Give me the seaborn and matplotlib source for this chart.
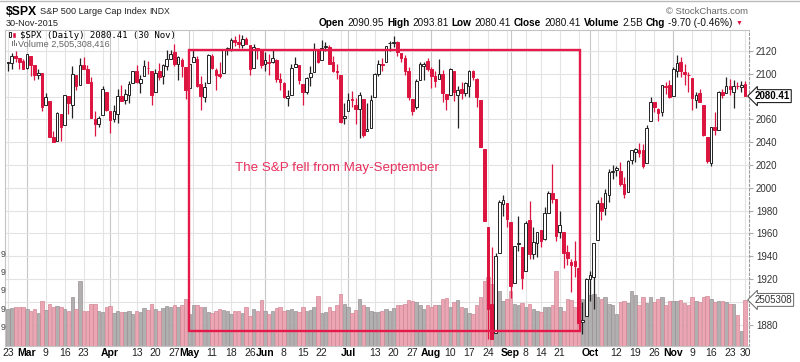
import numpy as np
import pandas as pd
import matplotlib
matplotlib.use("Agg")
import matplotlib.pyplot as plt
from matplotlib.patches import Rectangle
import seaborn as sns

# trading calendar shown on the chart
holidays = ['2015-04-03', '2015-05-25', '2015-07-03', '2015-09-07', '2015-11-26']
dates = pd.bdate_range('2015-02-23', '2015-11-30', freq='C', holidays=holidays)

# daily OHLC of $SPX, one row per month
opens = [
    2109.8, 2109.1, 2115.3, 2113.9, 2110.9,
    2105.2, 2115.8, 2107.7, 2098.5, 2100.9, 2072.3, 2076.1, 2044.7, 2041.1, 2064.6, 2055.4, 2080.6, 2072.8, 2098.7, 2090.3, 2108.0, 2103.9, 2093.1, 2059.9, 2055.8, 2064.1, 2084.1,
    2067.6, 2060.0, 2064.9, 2080.8, 2076.9, 2081.3, 2091.5, 2102.0, 2092.3, 2097.8, 2105.0, 2102.6, 2084.1, 2102.8, 2098.3, 2107.2, 2112.8, 2119.3, 2108.4, 2112.5, 2105.5,
    2087.4, 2110.2, 2112.6, 2091.3, 2080.0, 2092.1, 2115.6, 2102.9, 2099.6, 2100.4, 2122.1, 2121.3, 2129.5, 2127.8, 2125.6, 2130.4, 2125.3, 2105.1, 2122.3, 2120.7,
    2108.6, 2110.4, 2110.6, 2112.4, 2095.1, 2092.3, 2079.1, 2081.1, 2106.2, 2107.4, 2091.3, 2084.3, 2097.4, 2101.6, 2121.1, 2112.5, 2123.2, 2123.7, 2109.9, 2102.6, 2098.6, 2061.2,
    2067.0, 2078.0, 2073.0, 2069.5, 2077.7, 2049.7, 2052.7, 2080.0, 2099.7, 2109.0, 2110.6, 2126.8, 2126.9, 2127.6, 2118.2, 2114.2, 2102.2, 2078.2, 2070.8, 2094.7, 2106.8, 2111.6,
    2104.5, 2097.7, 2095.3, 2100.0, 2082.6, 2081.0, 2102.7, 2081.1, 2086.2, 2083.2, 2089.7, 2102.0, 2095.7, 2076.6, 2034.1, 1965.2, 1898.1, 1872.8, 1942.8, 1986.1, 1986.7,
    1970.1, 1916.5, 1950.8, 1947.8, 1927.3, 1971.5, 1941.6, 1951.5, 1963.1, 1955.1, 1978.0, 1995.3, 1989.7, 1960.8, 1961.4, 1943.2, 1934.8, 1935.9, 1929.2, 1881.9, 1887.1,
    1919.7, 1921.8, 1954.3, 1986.6, 1982.3, 1994.0, 2013.7, 2015.7, 2015.0, 2003.7, 1996.5, 2024.4, 2031.7, 2033.1, 2033.5, 2021.9, 2058.2, 2075.1, 2068.8, 2066.5, 2088.4, 2090.0,
    2080.8, 2102.6, 2110.6, 2101.9, 2098.6, 2096.6, 2077.2, 2083.4, 2072.3, 2044.6, 2022.1, 2053.7, 2051.0, 2083.7, 2082.8, 2089.4, 2084.4, 2089.3, 2088.8, 2090.95,
]
highs = [
    2110.0, 2117.9, 2119.6, 2113.9, 2112.7,
    2117.5, 2115.8, 2107.7, 2104.3, 2100.9, 2083.5, 2076.1, 2050.1, 2066.4, 2064.6, 2081.4, 2080.6, 2106.9, 2098.7, 2113.9, 2114.9, 2107.6, 2097.4, 2067.1, 2062.8, 2089.0, 2084.1,
    2067.6, 2072.2, 2087.0, 2089.8, 2086.7, 2093.3, 2102.6, 2107.6, 2098.6, 2111.9, 2111.3, 2102.6, 2103.9, 2109.6, 2109.0, 2120.5, 2120.9, 2125.9, 2116.0, 2113.7, 2105.5,
    2108.4, 2120.9, 2115.2, 2098.4, 2092.9, 2117.7, 2117.7, 2105.1, 2110.2, 2121.5, 2123.9, 2131.8, 2133.0, 2134.7, 2134.3, 2132.2, 2125.3, 2126.2, 2122.3, 2120.7,
    2119.2, 2117.6, 2121.9, 2112.9, 2101.0, 2093.0, 2085.6, 2108.5, 2115.0, 2107.4, 2091.3, 2097.4, 2106.8, 2126.6, 2121.6, 2129.9, 2128.0, 2125.1, 2116.0, 2108.9, 2098.6, 2074.3,
    2082.8, 2085.1, 2078.6, 2083.7, 2077.7, 2074.3, 2081.3, 2100.7, 2112.0, 2114.1, 2124.4, 2128.9, 2132.8, 2128.4, 2118.5, 2116.9, 2106.0, 2078.2, 2095.6, 2110.6, 2110.5, 2114.2,
    2105.7, 2102.5, 2112.7, 2103.3, 2082.6, 2105.4, 2102.7, 2089.1, 2092.9, 2092.5, 2102.9, 2103.5, 2096.2, 2076.6, 2034.1, 1965.2, 1948.0, 1943.1, 1989.6, 1993.5, 1986.7,
    1970.1, 1948.9, 1975.0, 1947.8, 1970.4, 1988.6, 1965.3, 1961.1, 1963.1, 1983.2, 1997.3, 2020.9, 1989.7, 1979.6, 1961.4, 1949.5, 1937.2, 1952.9, 1929.2, 1899.5, 1920.5,
    1927.2, 1951.4, 1989.2, 1991.6, 1999.3, 2016.5, 2020.1, 2018.7, 2022.3, 2009.6, 2024.2, 2033.5, 2034.5, 2039.1, 2038.0, 2055.2, 2079.7, 2075.1, 2070.4, 2090.4, 2092.5, 2094.3,
    2106.2, 2116.5, 2114.6, 2108.8, 2101.9, 2096.6, 2083.7, 2086.9, 2072.3, 2044.6, 2053.2, 2066.7, 2085.3, 2086.7, 2097.1, 2095.6, 2094.1, 2093.0, 2093.3, 2093.81,
]
lows = [
    2102.5, 2103.8, 2109.9, 2103.8, 2103.8,
    2104.5, 2098.3, 2094.5, 2095.2, 2067.3, 2072.2, 2044.1, 2039.7, 2041.1, 2041.2, 2055.4, 2065.1, 2061.2, 2085.6, 2090.3, 2104.4, 2091.5, 2061.0, 2045.5, 2052.9, 2064.1, 2067.0,
    2048.4, 2057.3, 2056.5, 2076.1, 2073.3, 2074.3, 2091.5, 2092.3, 2083.2, 2097.8, 2100.0, 2072.4, 2084.1, 2094.4, 2091.1, 2103.2, 2112.8, 2107.0, 2094.9, 2097.4, 2077.6,
    2087.4, 2110.2, 2088.5, 2067.9, 2075.0, 2092.1, 2104.6, 2085.6, 2096.0, 2100.4, 2116.8, 2120.0, 2124.5, 2122.6, 2122.9, 2126.0, 2099.2, 2105.1, 2112.9, 2104.9,
    2102.5, 2099.1, 2109.6, 2093.2, 2085.7, 2079.1, 2072.1, 2081.1, 2106.2, 2091.3, 2072.5, 2082.1, 2088.9, 2101.6, 2109.5, 2112.5, 2119.9, 2108.5, 2101.8, 2095.4, 2056.6, 2056.3,
    2067.0, 2071.0, 2055.6, 2044.0, 2044.7, 2049.7, 2052.7, 2080.0, 2098.2, 2102.5, 2110.6, 2119.9, 2123.7, 2115.4, 2110.0, 2098.6, 2077.1, 2063.5, 2069.1, 2094.1, 2094.1, 2102.1,
    2087.3, 2088.6, 2095.3, 2075.5, 2067.9, 2081.0, 2076.5, 2052.1, 2078.3, 2080.6, 2079.3, 2094.1, 2070.5, 2035.7, 1970.8, 1867.0, 1867.1, 1872.8, 1942.8, 1975.2, 1966.0,
    1903.1, 1916.5, 1944.7, 1911.2, 1927.3, 1937.9, 1937.2, 1939.2, 1948.3, 1954.3, 1977.9, 1986.7, 1953.6, 1955.8, 1929.2, 1932.6, 1908.9, 1921.5, 1879.2, 1871.9, 1887.1,
    1900.7, 1893.7, 1954.3, 1972.0, 1976.4, 1987.5, 2007.6, 2010.6, 2001.8, 1990.7, 1996.5, 2020.5, 2022.3, 2026.6, 2017.2, 2021.9, 2058.2, 2066.5, 2058.8, 2063.1, 2082.6, 2079.1,
    2080.8, 2097.5, 2097.0, 2090.4, 2083.7, 2068.2, 2069.9, 2074.9, 2045.7, 2022.0, 2019.4, 2045.9, 2051.0, 2078.8, 2082.8, 2081.4, 2070.3, 2086.3, 2084.1, 2080.41,
]
closes = [
    2109.66, 2115.48, 2113.86, 2110.74, 2104.50,
    2117.39, 2107.78, 2098.53, 2101.04, 2071.26, 2079.43, 2044.16, 2040.24, 2065.95, 2053.40, 2081.19, 2074.28, 2099.50, 2089.27, 2108.10, 2104.42, 2091.50, 2061.05, 2056.15, 2061.02, 2086.24, 2067.89,
    2059.69, 2066.96, 2080.62, 2076.33, 2081.90, 2091.18, 2102.06, 2092.43, 2095.84, 2106.63, 2104.99, 2081.18, 2100.40, 2097.29, 2107.96, 2112.93, 2117.69, 2108.92, 2114.76, 2106.85, 2085.51,
    2108.29, 2114.49, 2089.46, 2080.15, 2088.00, 2116.10, 2105.33, 2099.12, 2098.48, 2121.10, 2122.73, 2129.20, 2127.83, 2125.85, 2130.82, 2126.06, 2104.20, 2123.48, 2120.79, 2107.39,
    2111.73, 2109.60, 2114.07, 2095.84, 2092.83, 2079.28, 2080.15, 2105.20, 2108.86, 2094.11, 2084.43, 2096.29, 2100.44, 2121.24, 2109.99, 2122.85, 2124.20, 2108.58, 2102.31, 2101.49, 2057.64, 2063.11,
    2077.42, 2076.78, 2068.76, 2081.34, 2046.68, 2051.31, 2076.62, 2099.60, 2108.95, 2107.40, 2124.29, 2126.64, 2128.28, 2119.21, 2114.15, 2102.15, 2079.65, 2067.64, 2093.25, 2108.57, 2108.63, 2103.84,
    2098.04, 2093.32, 2099.84, 2083.56, 2077.57, 2104.18, 2084.07, 2086.05, 2083.39, 2091.54, 2102.44, 2096.92, 2079.61, 2035.73, 1970.89, 1893.21, 1867.61, 1940.51, 1987.66, 1988.87, 1972.18,
    1913.85, 1948.86, 1951.13, 1921.22, 1969.41, 1942.04, 1952.29, 1961.05, 1953.03, 1978.09, 1995.31, 1990.20, 1958.03, 1966.97, 1942.74, 1938.76, 1932.24, 1931.34, 1881.77, 1884.09, 1920.03,
    1923.82, 1951.36, 1987.05, 1979.92, 1995.83, 2013.43, 2014.89, 2017.46, 2003.69, 1994.24, 2023.86, 2033.11, 2033.66, 2030.77, 2018.94, 2052.51, 2075.15, 2071.18, 2065.89, 2090.35, 2089.41, 2079.36,
    2104.05, 2109.79, 2102.31, 2099.93, 2099.20, 2078.58, 2081.72, 2075.00, 2045.97, 2023.04, 2053.19, 2050.44, 2083.58, 2081.24, 2089.17, 2086.59, 2089.14, 2088.87, 2090.11, 2080.41,
]
# volume in billions of shares
volumes = [
    2.01, 2.05, 2.12, 2.14, 2.10,
    2.01, 1.92, 1.98, 1.78, 2.44, 1.95, 2.27, 2.14, 2.18, 2.12, 2.02, 1.92, 2.66, 2.00, 3.57, 1.90, 1.87, 2.29, 2.29, 1.92, 1.83, 2.10,
    2.18, 1.80, 1.92, 1.85, 1.85, 1.92, 1.75, 1.90, 1.85, 2.05, 1.95, 2.30, 1.98, 1.90, 2.05, 2.15, 2.10, 2.22, 2.12, 2.25, 2.56,
    1.74, 2.20, 2.25, 2.14, 2.09, 1.83, 1.78, 1.92, 2.01, 1.96, 1.89, 1.74, 1.92, 1.89, 1.78, 2.09, 1.60, 2.01, 1.92, 2.51,
    1.92, 1.74, 1.87, 2.05, 2.14, 1.92, 1.96, 2.01, 1.92, 1.83, 2.09, 1.92, 1.96, 2.09, 2.70, 1.80, 1.83, 2.09, 1.87, 2.20, 2.84, 2.29,
    2.09, 1.80, 1.96, 2.56, 2.25, 2.09, 1.92, 1.83, 1.83, 1.87, 2.01, 1.87, 2.05, 2.20, 2.22, 2.29, 2.51, 2.47, 2.38, 2.25, 2.01, 2.20,
    2.14, 2.20, 2.20, 2.56, 2.60, 2.09, 2.38, 2.51, 2.09, 2.05, 1.80, 1.74, 2.20, 2.66, 3.57, 3.75, 3.40, 3.70, 2.99, 2.47, 2.56,
    2.99, 2.29, 2.20, 2.33, 2.14, 2.29, 2.01, 1.92, 1.83, 2.09, 2.12, 2.20, 4.12, 2.09, 1.92, 2.56, 2.51, 2.09, 2.75, 2.56, 2.84,
    2.75, 2.84, 2.66, 2.56, 2.66, 2.29, 2.20, 1.74, 2.38, 2.44, 2.33, 2.99, 2.75, 2.20, 2.66, 2.33, 2.66, 2.38, 2.56, 2.66, 2.25, 2.47,
    2.44, 2.47, 2.51, 2.33, 2.25, 2.66, 2.44, 2.38, 2.66, 2.70, 2.56, 2.38, 2.44, 2.47, 2.38, 2.29, 2.29, 1.65, 0.82, 2.505308416,
]

# x-axis labels
tick_dates = ['2015-02-23', '2015-03-02', '2015-03-09', '2015-03-16', '2015-03-23', '2015-04-01',
              '2015-04-13', '2015-04-20', '2015-04-27', '2015-05-01', '2015-05-11', '2015-05-18',
              '2015-05-26', '2015-06-01', '2015-06-08', '2015-06-15', '2015-06-22', '2015-07-01',
              '2015-07-13', '2015-07-20', '2015-07-27', '2015-08-03', '2015-08-10', '2015-08-17',
              '2015-08-24', '2015-09-01', '2015-09-08', '2015-09-14', '2015-09-21', '2015-10-01',
              '2015-10-12', '2015-10-19', '2015-10-26', '2015-11-02', '2015-11-09', '2015-11-16',
              '2015-11-23', '2015-11-30']
tick_labels = ['23', 'Mar', '9', '16', '23', 'Apr', '13', '20', '27', 'May', '11', '18', '26',
               'Jun', '8', '15', '22', 'Jul', '13', '20', '27', 'Aug', '10', '17', '24', 'Sep',
               '8', '14', '21', 'Oct', '12', '19', '26', 'Nov', '9', '16', '23', '30']
month_names = ['Mar', 'Apr', 'May', 'Jun', 'Jul', 'Aug', 'Sep', 'Oct', 'Nov']
price_ticks = [1880, 1900, 1920, 1940, 1960, 1980, 2000, 2020, 2040, 2060, 2080, 2100, 2120]
hidden_price_labels = [1900, 2080]   # covered by the last-value tags
vol_ticks = [1, 2, 3, 4, 5]

# annotation box
box_start, box_end = '2015-05-01', '2015-09-28'
box_low, box_high = 1874, 2121
note_date, note_price = '2015-05-19', 2017
note_text = 'The S&P fell from May-September'

RED = '#dc1440'
BLACK = '#222222'

sns.set_style("white")
plt.rcParams['font.family'] = ['Liberation Sans', 'DejaVu Sans']

o = np.array(opens)
h = np.array(highs)
l = np.array(lows)
c = np.array(closes)
v = np.array(volumes)
x = np.arange(len(dates))
prev = np.r_[c[0], c[:-1]]
down = c < prev
filled = c < o

W, H = 800, 362
fig = plt.figure(figsize=(W / 100, H / 100), dpi=100)
L, R, T, B = 5, 749, 30, 345.5
rect = [L / W, 1 - B / H, (R - L) / W, (B - T) / H]
ax_vol = fig.add_axes(rect)
ax = fig.add_axes(rect, sharex=ax_vol)
ax.patch.set_visible(False)

# grid (drawn on the back axes so volume bars sit on top)
week_start = pd.Series(x, index=dates).groupby([dates.isocalendar().week.values]).first().values
month_start = pd.Series(x, index=dates).groupby(dates.month).first().values
for xi in week_start:
    ax_vol.axvline(xi, color='#e4e4e4', lw=0.8, zorder=0)
for xi in month_start[1:]:
    ax_vol.axvline(xi, color='#c8c8c8', lw=0.8, zorder=0)
for p in price_ticks:
    ax_vol.plot([-2, len(x) + 2], [p, p], transform=ax.transData, color='#e3e3e3', lw=0.8, zorder=0)

# volume bars
vol_df = pd.DataFrame({'x': x, 'vol': v, 'dir': np.where(down, 'down', 'up')})
sns.barplot(data=vol_df, x='x', y='vol', hue='dir', palette={'down': '#eca6b3', 'up': '#b0b0b0'},
            native_scale=True, width=0.9, dodge=False, errorbar=None, saturation=1,
            legend=False, ax=ax_vol, zorder=1)
for p in ax_vol.patches:
    fc = p.get_facecolor()
    p.set_edgecolor((fc[0] * 0.88, fc[1] * 0.82, fc[2] * 0.84, 1))
    p.set_linewidth(0.5)
ax_vol.set_xlabel('')
ax_vol.set_ylabel('')
ax_vol.set_ylim(0, (B - T) / 18.2)
ax_vol.set_yticks([])
# only the last digit of the volume scale shows at the left edge
for vt in vol_ticks:
    ax_vol.annotate('9', xy=(0, vt), xycoords=('figure fraction', 'data'),
                    xytext=(0.3, 0), textcoords='offset points', ha='left', va='center',
                    fontsize=6.3, color='#444444', annotation_clip=False)

# candles
edge = np.where(down, RED, BLACK)
face = np.where(filled, edge, 'white')
ax.vlines(x, l, h, colors=edge, lw=0.9, zorder=2)
ax.bar(x, np.maximum(np.abs(c - o), 0.4), bottom=np.minimum(o, c), width=0.7,
       color=face, edgecolor=edge, linewidth=0.7, zorder=3)

# highlight box and note
i0 = dates.get_loc(pd.Timestamp(box_start))
i1 = dates.get_loc(pd.Timestamp(box_end)) + 0.3
ax.add_patch(Rectangle((i0, box_low), i1 - i0, box_high - box_low, fill=False,
                       ec='#e6194b', lw=1.7, zorder=5))
ax.text(dates.get_loc(pd.Timestamp(note_date)), note_price, note_text, color='#e8305e',
        fontsize=9.6, va='center', ha='left', zorder=6)

ax.set_ylim(1861.6, 2138.4)
ax.set_xlim(-0.8, 196.06)
ax.yaxis.tick_right()
ax.set_yticks(price_ticks)
ax.set_yticklabels(['' if p in hidden_price_labels else str(p) for p in price_ticks])
ax.tick_params(axis='y', length=3, color='#aaaaaa', labelsize=7, labelcolor='#333333', pad=2)
ax.set_xticks([dates.get_loc(pd.Timestamp(d)) for d in tick_dates])
ax.set_xticklabels(tick_labels)
ax.tick_params(axis='x', length=0, pad=1.5, labelsize=7.5, labelcolor='#222222')
for t in ax.get_xticklabels():
    if t.get_text() in month_names:
        t.set_fontweight('bold')
        t.set_color('black')
ax_vol.tick_params(axis='x', bottom=False, labelbottom=False)
for s in ax.spines.values():
    s.set_visible(False)
for s in ax_vol.spines.values():
    s.set_color('#c4c4c4')
    s.set_linewidth(0.8)
ax_vol.spines['right'].set_linestyle((0, (2, 2)))
ax_vol.spines['right'].set_color('#999999')

# last value tags (both drawn on the front axes)
ax.annotate(f'{c[-1]:.2f}', xy=(1, c[-1]), xycoords=('axes fraction', 'data'),
            xytext=(4, 0), textcoords='offset points', ha='left', va='center',
            fontsize=7, fontweight='bold', color='black', annotation_clip=False, zorder=8,
            bbox=dict(boxstyle='larrow,pad=0.15', fc='white', ec='#222222', lw=0.8))
ax.annotate(f'{v[-1] * 1e9 / 1000:.0f}'[:7], xy=(1, v[-1]), xycoords=ax_vol.get_yaxis_transform(),
            xytext=(4, 0), textcoords='offset points', ha='left', va='center',
            fontsize=7, color='#333333', annotation_clip=False, zorder=8,
            bbox=dict(boxstyle='larrow,pad=0.15', fc='white', ec='#666666', lw=0.7))

# header
renderer = fig.canvas.get_renderer()


def run_text(x0, y0, pieces, gap=3):
    xx = x0
    for s, kw in pieces:
        t = fig.text(xx / W, 1 - y0 / H, s, va='center', ha='left', **kw)
        xx += t.get_window_extent(renderer=renderer).width + gap
    return xx


def px_rect(x0, y0, w, hgt, **kw):
    # small box in figure pixels measured from the top-left corner
    fig.add_artist(Rectangle((x0 / W, 1 - (y0 + hgt) / H), w / W, hgt / H,
                             transform=fig.transFigure, **kw))


chg = c[-1] - c[-2]
pct = chg / c[-2] * 100
hdr = dict(fontsize=7.2, color='#111111')
bold = dict(fontsize=7.2, color='black', fontweight='bold')
run_text(6, 12, [('$SPX', dict(fontsize=8.8, fontweight='bold', color='black')),
                 ('S&P 500 Large Cap Index', dict(fontsize=6.6, color='#222222')),
                 ('INDX', dict(fontsize=6.2, color='#222222'))])
fig.text(6 / W, 1 - 23.5 / H, dates[-1].strftime('%d-%b-%Y'), fontsize=6.6,
         va='center', ha='left', color='#222222')
end = run_text(319, 23.5, [('Open', bold), (f'{o[-1]:.2f}', hdr), ('High', bold), (f'{h[-1]:.2f}', hdr),
                           ('Low', bold), (f'{l[-1]:.2f}', hdr), ('Close', bold), (f'{c[-1]:.2f}', hdr),
                           ('Volume', bold), (f'{v[-1]:.1f}B', hdr), ('Chg', bold),
                           (f'{chg:.2f} ({pct:.2f}%)', hdr)])
fig.text(end / W, 1 - 23.5 / H, '▼', fontsize=5, color=RED, va='center', ha='left')
fig.text(748 / W, 1 - 11.5 / H, '© StockCharts.com', fontsize=6.8, color='#666666',
         va='center', ha='right')
fig.add_artist(plt.Line2D([0, 1], [1 - 0.5 / H, 1 - 0.5 / H], color='#bbbbbb', lw=1))

# legend inside the chart, with its small icons
px_rect(9, 32, 2, 5, fc='white', ec='black', lw=0.6)
px_rect(12.5, 33, 2, 4, fc=RED, ec=RED, lw=0.4)
px_rect(12, 41.5, 1.4, 4.5, fc='#777777', ec='none')
px_rect(14, 40, 1.4, 6, fc='#777777', ec='none')
px_rect(16, 42.5, 1.4, 3.5, fc='#777777', ec='none')
fig.text(20 / W, 1 - 35 / H, f'$SPX (Daily) {c[-1]:.2f} ({dates[-1].day} {dates[-1].strftime("%b")})',
         family='DejaVu Sans Mono', fontsize=6.5, color='black', va='center', ha='left')
fig.text(18.5 / W, 1 - 44 / H, f'Volume {round(v[-1] * 1e9):,}', fontsize=6.6, color='#666666',
         va='center', ha='left')

fig.savefig('out.png', dpi=100)
